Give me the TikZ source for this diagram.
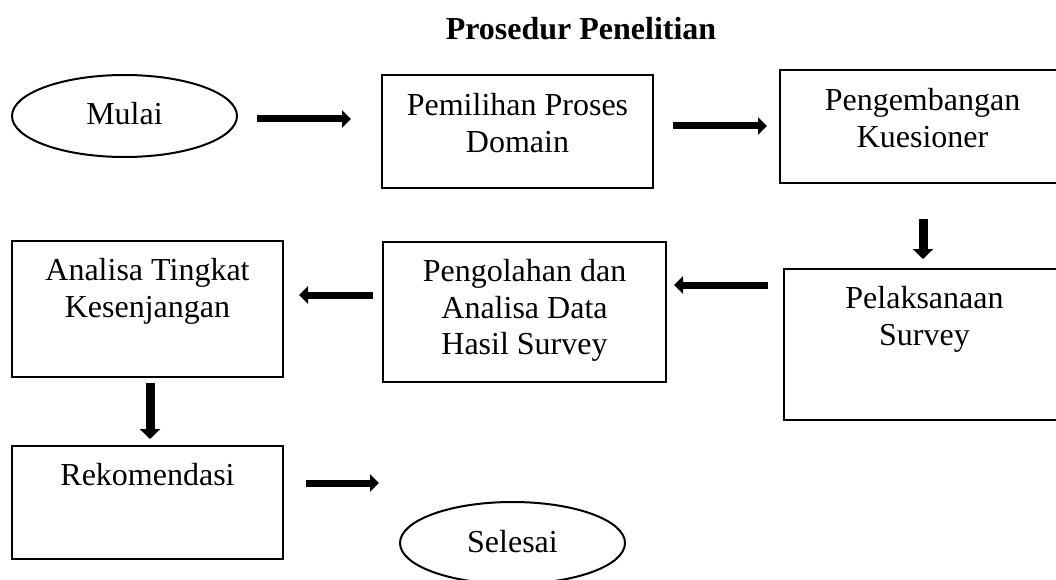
\documentclass[tikz,border=0pt]{standalone}
\usepackage{fontspec}
\setmainfont{Liberation Serif}
\usetikzlibrary{arrows.meta,shapes.geometric}
\tikzset{
  box/.style={draw=black, line width=2.6pt, rectangle, inner sep=0pt},
  oval/.style={draw=black, line width=2pt, ellipse, inner sep=0pt, minimum width=225pt, minimum height=82pt},
  txt/.style={align=center, inner sep=0pt, font=\fontsize{32}{36.5}\selectfont},
  flow/.style={line width=7pt, -{Triangle[length=9pt,width=17pt]}},
  vflow/.style={line width=9pt, -{Triangle[length=10pt,width=20pt]}},
}
\begin{document}
\begin{tikzpicture}[x=1pt,y=-1pt]
\useasboundingbox (0,0) rectangle (1056,580);
\clip (0,0) rectangle (1056,580);
% title
\node[inner sep=0pt, anchor=base, font=\fontsize{32}{36}\selectfont\bfseries] (title) at (581,40) {Prosedur Penelitian};
% shapes
\node[oval] (mulai) at (124.5,116) {};
\node[txt, anchor=base] (tmulai) at (124.5,125) {Mulai};
\node[box, minimum width=271pt, minimum height=113pt] (pemilihan) at (517.5,131.5) {};
\node[txt, anchor=north] (tpemilihan) at ([yshift=-42pt+25.55pt]pemilihan.north) {\strut Pemilihan Proses\\Domain};
\node[box, minimum width=285pt, minimum height=113pt] (pengembangan) at (922.5,126.5) {};
\node[txt, anchor=north] (tpengembangan) at ([yshift=-42pt+25.55pt]pengembangan.north) {\strut Pengembangan\\Kuesioner};
\node[box, minimum width=281pt, minimum height=151pt] (pelaksanaan) at (924.5,344.5) {};
\node[txt, anchor=north] (tpelaksanaan) at ([yshift=-41pt+25.55pt]pelaksanaan.north) {\strut Pelaksanaan\\Survey};
\node[box, minimum width=283pt, minimum height=140pt] (pengolahan) at (524.5,312) {};
\node[txt, anchor=north] (tpengolahan) at ([yshift=-41pt+25.55pt]pengolahan.north) {\strut Pengolahan dan\\Analisa Data\\Hasil Survey};
\node[box, minimum width=271pt, minimum height=136pt] (analisa) at (147.5,309) {};
\node[txt, anchor=north] (tanalisa) at ([yshift=-41pt+25.55pt]analisa.north) {\strut Analisa Tingkat\\Kesenjangan};
\node[box, minimum width=271pt, minimum height=113pt] (rekomendasi) at (147.5,502.5) {};
\node[txt, anchor=north] (trekomendasi) at ([yshift=-41pt+25.55pt]rekomendasi.north) {\strut Rekomendasi};
\node[oval] (selesai) at (512.5,543) {};
\node[txt, anchor=base] (tselesai) at (512.5,552) {Selesai};
% arrow ends
\coordinate (a1s) at (257,119); \coordinate (a1e) at (351,119);
\coordinate (a2s) at (673,126); \coordinate (a2e) at (767,126);
\coordinate (a3s) at (923,219); \coordinate (a3e) at (923,259);
\coordinate (a4s) at (768,285); \coordinate (a4e) at (674,285);
\coordinate (a5s) at (373,295); \coordinate (a5e) at (299,295);
\coordinate (a6s) at (150,383); \coordinate (a6e) at (150,439);
\coordinate (a7s) at (306,483); \coordinate (a7e) at (379,483);
\draw[flow] (a1s) -- (a1e);
\draw[flow] (a2s) -- (a2e);
\draw[vflow] (a3s) -- (a3e);
\draw[flow] (a4s) -- (a4e);
\draw[flow] (a5s) -- (a5e);
\draw[vflow] (a6s) -- (a6e);
\draw[flow] (a7s) -- (a7e);
\end{tikzpicture}
\end{document}
